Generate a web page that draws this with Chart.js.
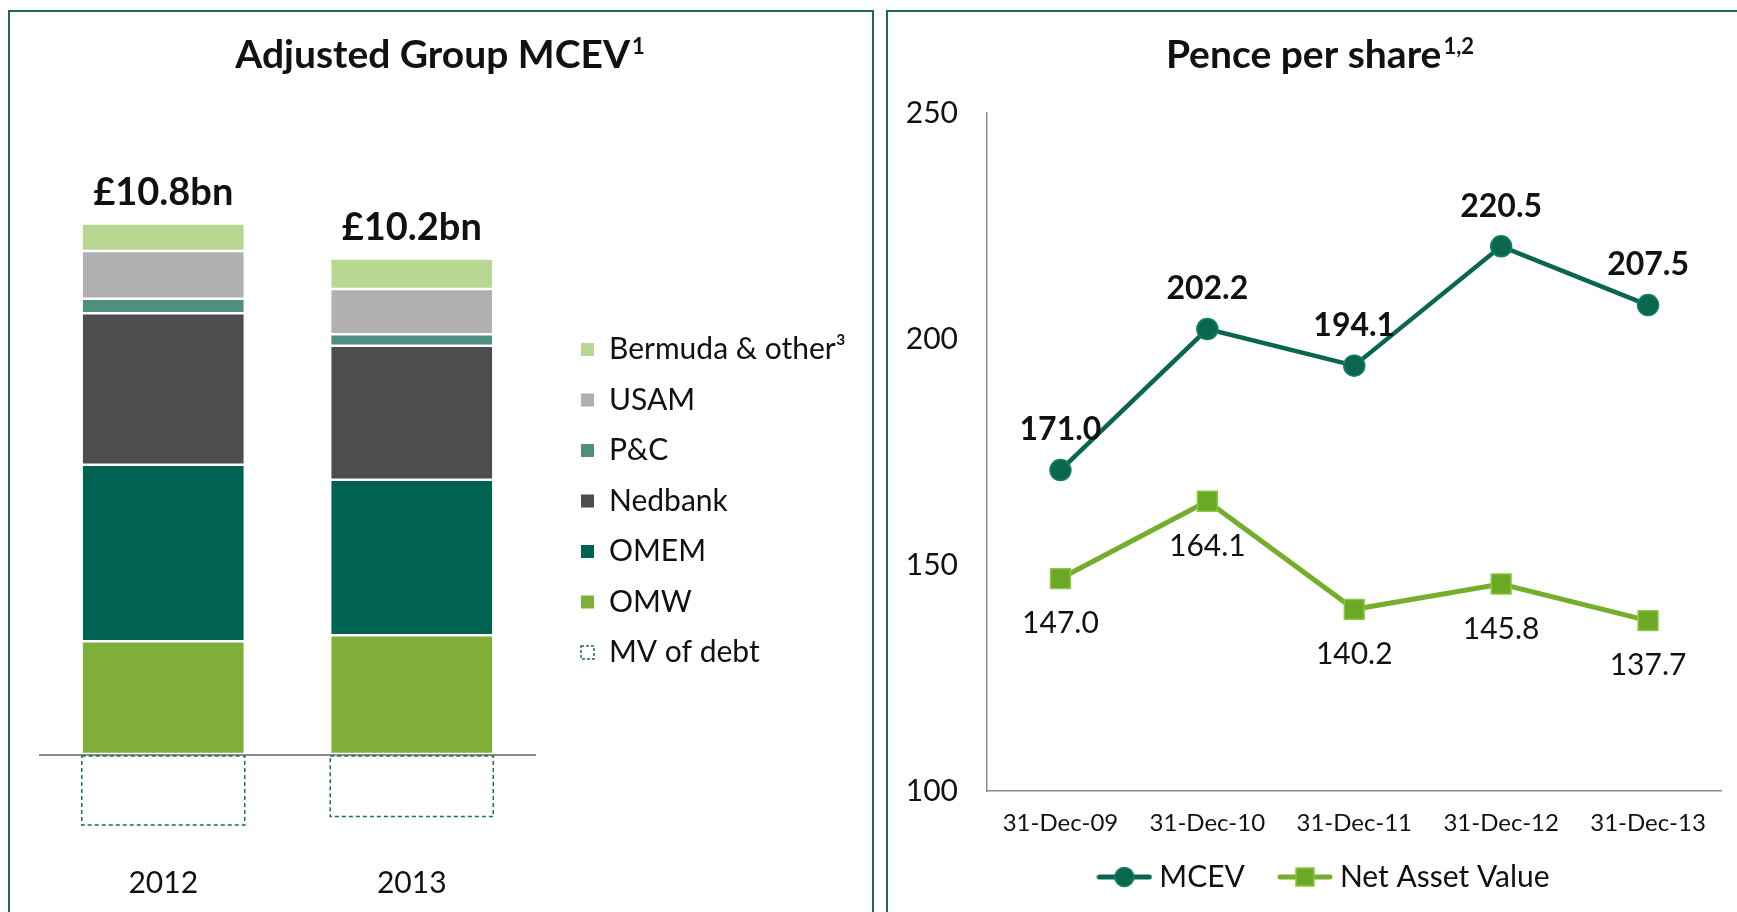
<!DOCTYPE html>
<html>
<head>
<meta charset="utf-8">
<script src="https://cdn.jsdelivr.net/npm/chart.js@4.4.1/dist/chart.umd.min.js"></script>
<style>
  html, body { margin: 0; padding: 0; background: #fff; overflow: hidden; }
  body { width: 1737px; height: 912px; position: relative; }
  .panel { position: absolute; top: 10px; height: 960px; border: 2px solid #1d6b57; box-sizing: border-box; }
  #panelLeft { left: 8px; width: 866px; }
  #panelRight { left: 886px; width: 900px; }
  #chartLeft { position: absolute; left: 0; top: 0; }
  #chartRight { position: absolute; left: 887px; top: 0; }
</style>
</head>
<body>
<div class="panel" id="panelLeft"></div>
<div class="panel" id="panelRight"></div>
<canvas id="chartLeft" width="880" height="912"></canvas>
<canvas id="chartRight" width="850" height="920"></canvas>
<script>
Chart.defaults.font.family = 'Lato';
Chart.defaults.color = '#111';

// Left chart: Adjusted Group MCEV (GBP bn)
let years = ['2012', '2013'];
let omw = [2.31, 2.43];
let omem = [3.58, 3.16];
let nedbank = [3.08, 2.72];
let pc = [0.29, 0.23];
let usam = [0.97, 0.92];
let bermuda = [0.56, 0.62];
let mvDebt = [-1.42, -1.25];
let totals = [10.8, 10.2];

// Right chart: pence per share
let dates = ['31-Dec-09', '31-Dec-10', '31-Dec-11', '31-Dec-12', '31-Dec-13'];
let mcev = [171.0, 202.2, 194.1, 220.5, 207.5];
let nav = [147.0, 164.1, 140.2, 145.8, 137.7];

// titles with superscript footnote marks
const panelTitle = {
    id: 'panelTitle',
    afterDraw(chart, args, opts) {
        const ctx = chart.ctx;
        ctx.save();
        ctx.fillStyle = '#111';
        ctx.textAlign = 'left';
        ctx.textBaseline = 'alphabetic';
        ctx.font = 'bold 39px Lato';
        const w1 = ctx.measureText(opts.text).width;
        ctx.font = 'bold 22px Lato';
        const w2 = ctx.measureText(opts.sup).width;
        const x = opts.x - (w1 + w2 + 2) / 2;
        ctx.font = 'bold 39px Lato';
        ctx.fillText(opts.text, x, opts.y);
        ctx.font = 'bold 22px Lato';
        ctx.fillText(opts.sup, x + w1 + 2, opts.y - 14);
        ctx.restore();
    }
};

// nudge a legend after layout (keeps chart area where it is)
const legendShift = {
    id: 'legendShift',
    afterLayout(chart, args, opts) {
        const lg = chart.legend;
        if (!lg) return;
        lg.left += opts.dx || 0;
        lg.right += opts.dx || 0;
        lg.top += opts.dy || 0;
        lg.bottom += opts.dy || 0;
    }
};

// totals above the stacks + dashed MV of debt boxes
const barExtras = {
    id: 'barExtras',
    afterDatasetsDraw(chart) {
        const ctx = chart.ctx;
        ctx.save();
        ctx.font = 'bold 38px Lato';
        ctx.fillStyle = '#111';
        ctx.textAlign = 'center';
        ctx.textBaseline = 'middle';
        chart.getDatasetMeta(5).data.forEach((el, i) => {
            ctx.fillText('£' + totals[i].toFixed(1) + 'bn', el.x, el.y - 31);
        });
        ctx.strokeStyle = '#1b6f59';
        ctx.lineWidth = 1.5;
        ctx.setLineDash([4, 3]);
        chart.getDatasetMeta(6).data.forEach(el => {
            ctx.strokeRect(el.x - el.width / 2 - 1, el.base, el.width + 2, el.y - el.base);
        });
        ctx.restore();
    }
};

let legendOrder = [5, 4, 3, 2, 1, 0, 6];
let legendFont = 30;
let legendPad = 20.5;
let mctx = document.createElement('canvas').getContext('2d');
mctx.font = legendFont + 'px Lato';
let longest = Math.max(...['Bermuda & other³', 'MV of debt', 'Nedbank'].map(t => mctx.measureText(t).width));
let legendW = legendPad + 13 + legendFont / 2 + longest + 10;
let padRight = 880 - 560.5 - legendW;

function barSet(label, data, color) {
    return {
        label: label,
        data: data,
        backgroundColor: color,
        borderColor: '#ffffff',
        borderWidth: {top: 1.25, bottom: 1.25, left: 0, right: 0},
        borderSkipped: false,
        stack: 'a'
    };
}

let chartLeft = new Chart(document.getElementById('chartLeft').getContext('2d'), {
    type: 'bar',
    data: {
        labels: years,
        datasets: [
            barSet('OMW', omw, '#7faf39'),
            barSet('OMEM', omem, '#006251'),
            barSet('Nedbank', nedbank, '#4d4d4d'),
            barSet('P&C', pc, '#4e8f80'),
            barSet('USAM', usam, '#b0b0b0'),
            barSet('Bermuda & other³', bermuda, '#b7d793'),
            {
                label: 'MV of debt',
                data: mvDebt,
                backgroundColor: 'rgba(0,0,0,0)',
                borderWidth: 0,
                stack: 'a'
            }
        ]
    },
    options: {
        responsive: false,
        animation: false,
        layout: {padding: {top: 90, left: 39, right: padRight, bottom: 0}},
        datasets: {bar: {categoryPercentage: 1, barPercentage: 0.648}},
        scales: {
            x: {
                stacked: true,
                grid: {display: false, drawTicks: false},
                border: {display: false},
                ticks: {font: {size: 30}, padding: 11.5, color: '#111'},
                afterFit(scale) { scale.height = 58.5; }
            },
            y: {
                stacked: true,
                position: 'right',
                min: -2,
                max: 13.5,
                z: 1,
                ticks: {display: false, stepSize: 2},
                border: {display: false},
                grid: {
                    drawTicks: false,
                    lineWidth: 2,
                    color: c => c.tick && c.tick.value === 0 ? '#8c8c8c' : 'rgba(0,0,0,0)'
                },
                afterFit(scale) { scale.width = 24.5; }
            }
        },
        plugins: {
            title: {display: false},
            tooltip: {enabled: false},
            panelTitle: {text: 'Adjusted Group MCEV', sup: '1', x: 440, y: 68},
            legend: {
                position: 'right',
                align: 'center',
                maxWidth: 420,
                labels: {
                    font: {size: legendFont},
                    color: '#111',
                    boxWidth: 13,
                    boxHeight: 13,
                    padding: legendPad,
                    sort: (a, b) => legendOrder.indexOf(a.datasetIndex) - legendOrder.indexOf(b.datasetIndex),
                    generateLabels(chart) {
                        const items = Chart.defaults.plugins.legend.labels.generateLabels(chart);
                        items.forEach(it => {
                            if (it.datasetIndex === 6) {
                                it.fillStyle = '#ffffff';
                                it.strokeStyle = '#1b6f59';
                                it.lineWidth = 1.5;
                                it.lineDash = [3, 2];
                            } else {
                                it.lineWidth = 0;
                            }
                        });
                        return items;
                    }
                }
            }
        }
    },
    plugins: [panelTitle, barExtras]
});

// value labels on the line chart
const pointLabels = {
    id: 'pointLabels',
    afterDatasetsDraw(chart) {
        const ctx = chart.ctx;
        ctx.save();
        ctx.textAlign = 'center';
        ctx.textBaseline = 'middle';
        ctx.fillStyle = '#111';
        chart.data.datasets.forEach((ds, di) => {
            ctx.font = di === 0 ? 'bold 32px Lato' : '30px Lato';
            const dy = di === 0 ? -40 : 45;
            chart.getDatasetMeta(di).data.forEach((pt, i) => {
                ctx.fillText(ds.data[i].toFixed(1), pt.x, pt.y + dy);
            });
        });
        ctx.restore();
    }
};

function legendMarker(lineColor, style, fill, border) {
    const c = document.createElement('canvas');
    c.width = 56;
    c.height = 24;
    const g = c.getContext('2d');
    g.strokeStyle = lineColor;
    g.lineWidth = 5;
    g.lineCap = 'round';
    g.beginPath();
    g.moveTo(3, 12);
    g.lineTo(53, 12);
    g.stroke();
    g.fillStyle = fill;
    g.strokeStyle = border;
    g.lineWidth = 1.5;
    if (style === 'circle') {
        g.beginPath();
        g.arc(28, 12, 9.5, 0, Math.PI * 2);
        g.fill();
        g.stroke();
    } else {
        g.fillRect(19, 3, 18, 18);
        g.strokeRect(19, 3, 18, 18);
    }
    return c;
}
let markers = [
    legendMarker('#0b6650', 'circle', '#0b6650', '#15805f'),
    legendMarker('#74ae2c', 'rect', '#6aa826', '#8cc83f')
];

let chartRight = new Chart(document.getElementById('chartRight').getContext('2d'), {
    type: 'line',
    data: {
        labels: dates,
        datasets: [
            {
                label: 'MCEV',
                data: mcev,
                borderColor: '#0b6650',
                borderWidth: 4.5,
                pointStyle: 'circle',
                pointRadius: 10.5,
                pointBackgroundColor: '#0b6650',
                pointBorderColor: '#15805f',
                pointBorderWidth: 1.5
            },
            {
                label: 'Net Asset Value',
                data: nav,
                borderColor: '#74ae2c',
                borderWidth: 5,
                pointStyle: 'rect',
                pointRadius: 14,
                pointBackgroundColor: '#6aa826',
                pointBorderColor: '#8cc83f',
                pointBorderWidth: 1.5
            }
        ]
    },
    options: {
        responsive: false,
        animation: false,
        layout: {padding: {top: 113, left: 0, right: 14, bottom: 2.5}},
        scales: {
            x: {
                offset: true,
                grid: {display: false, drawTicks: false},
                border: {display: true, color: '#8c8c8c', width: 1.5},
                ticks: {font: {size: 24}, padding: 17.6, color: '#111', maxRotation: 0, autoSkip: false},
                afterFit(scale) { scale.height = 46.5; }
            },
            y: {
                min: 100,
                max: 250,
                grid: {display: false, drawTicks: false},
                border: {display: true, color: '#8c8c8c', width: 1.5},
                ticks: {stepSize: 50, font: {size: 30}, padding: 29, color: '#111'},
                afterFit(scale) { scale.width = 100; }
            }
        },
        plugins: {
            title: {display: false},
            tooltip: {enabled: false},
            panelTitle: {text: 'Pence per share', sup: '1,2', x: 433, y: 68},
            legendShift: {dx: 22, dy: -15.5},
            legend: {
                position: 'bottom',
                labels: {
                    font: {size: 30},
                    color: '#111',
                    usePointStyle: true,
                    pointStyleWidth: 40,
                    padding: 40,
                    generateLabels(chart) {
                        const items = Chart.defaults.plugins.legend.labels.generateLabels(chart);
                        items.forEach((it, i) => { it.pointStyle = markers[i]; });
                        return items;
                    }
                }
            }
        }
    },
    plugins: [panelTitle, pointLabels, legendShift]
});
</script>
</body>
</html>
